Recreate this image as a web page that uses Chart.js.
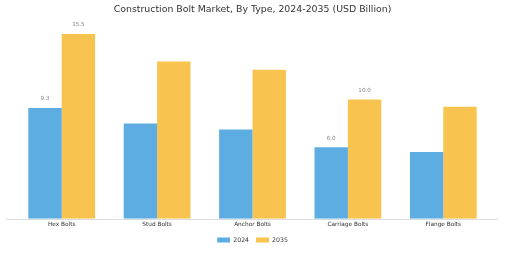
<!DOCTYPE html>
<html>
<head>
<meta charset="utf-8">
<script src="https://cdn.jsdelivr.net/npm/chart.js@4.4.1/dist/chart.umd.min.js"></script>
<style>
  html, body { margin: 0; padding: 0; background: #fff; }
  #wrap { width: 505px; height: 253px; }
</style>
</head>
<body>
<div id="wrap"><canvas id="boltChart"></canvas></div>
<script>
// ── Data ──
const categories = ['Hex Bolts', 'Stud Bolts', 'Anchor Bolts', 'Carriage Bolts', 'Flange Bolts'];
const values2024 = [9.3, 8.0, 7.5, 6.0, 5.6];
const values2035 = [15.5, 13.2, 12.5, 10.0, 9.4];
// only these bars carry a value label in the original
const labelled = ['Hex Bolts', 'Carriage Bolts'];

const blue = '#5DADE2';
const yellow = '#F8C44F';
const font = '"DejaVu Sans", sans-serif';

// value labels above selected bars
const valueLabels = {
    id: 'valueLabels',
    afterDatasetsDraw(chart) {
        const ctx = chart.ctx;
        ctx.save();
        ctx.font = '5.6px ' + font;
        ctx.fillStyle = '#888';
        ctx.textAlign = 'center';
        ctx.textBaseline = 'middle';
        chart.data.datasets.forEach((ds, i) => {
            chart.getDatasetMeta(i).data.forEach((bar, j) => {
                if (!labelled.includes(chart.data.labels[j])) return;
                ctx.fillText(ds.data[j].toFixed(1), bar.x, bar.y - 9);
            });
        });
        ctx.restore();
    }
};

// light baseline running a bit past the plot area
const baseLine = {
    id: 'baseLine',
    beforeDatasetsDraw(chart) {
        const { ctx, chartArea } = chart;
        const y = Math.round(chart.scales.y.getPixelForValue(0));
        ctx.save();
        ctx.strokeStyle = '#dddddd';
        ctx.lineWidth = 1;
        ctx.beginPath();
        ctx.moveTo(chartArea.left - 8, y + 0.5);
        ctx.lineTo(chartArea.right + 7, y + 0.5);
        ctx.stroke();
        ctx.restore();
    }
};

new Chart(document.getElementById('boltChart'), {
    type: 'bar',
    data: {
        labels: categories,
        datasets: [
            { label: '2024', data: values2024, backgroundColor: blue, borderWidth: 0 },
            { label: '2035', data: values2035, backgroundColor: yellow, borderWidth: 0 }
        ]
    },
    options: {
        responsive: true,
        maintainAspectRatio: false,
        animation: false,
        layout: { padding: { left: 14, right: 14, top: 0, bottom: 0 } },
        datasets: { bar: { barPercentage: 1.0, categoryPercentage: 0.7 } },
        plugins: {
            title: {
                display: true,
                text: 'Construction Bolt Market, By Type, 2024-2035 (USD Billion)',
                color: '#333',
                font: { family: font, size: 9.4, weight: 'normal' },
                padding: { top: 4.4, bottom: 8.3 }
            },
            legend: {
                position: 'bottom',
                labels: {
                    boxWidth: 13,
                    boxHeight: 5,
                    padding: 7,
                    color: '#333',
                    font: { family: font, size: 6.2 }
                }
            },
            tooltip: { enabled: false }
        },
        scales: {
            x: {
                grid: { display: false, drawTicks: false },
                border: { display: false },
                ticks: { color: '#333', padding: 2, font: { family: font, size: 5.8 }, maxRotation: 0 }
            },
            y: {
                min: 0,
                max: 16.34,
                display: false
            }
        }
    },
    plugins: [valueLabels, baseLine]
});
</script>
</body>
</html>
